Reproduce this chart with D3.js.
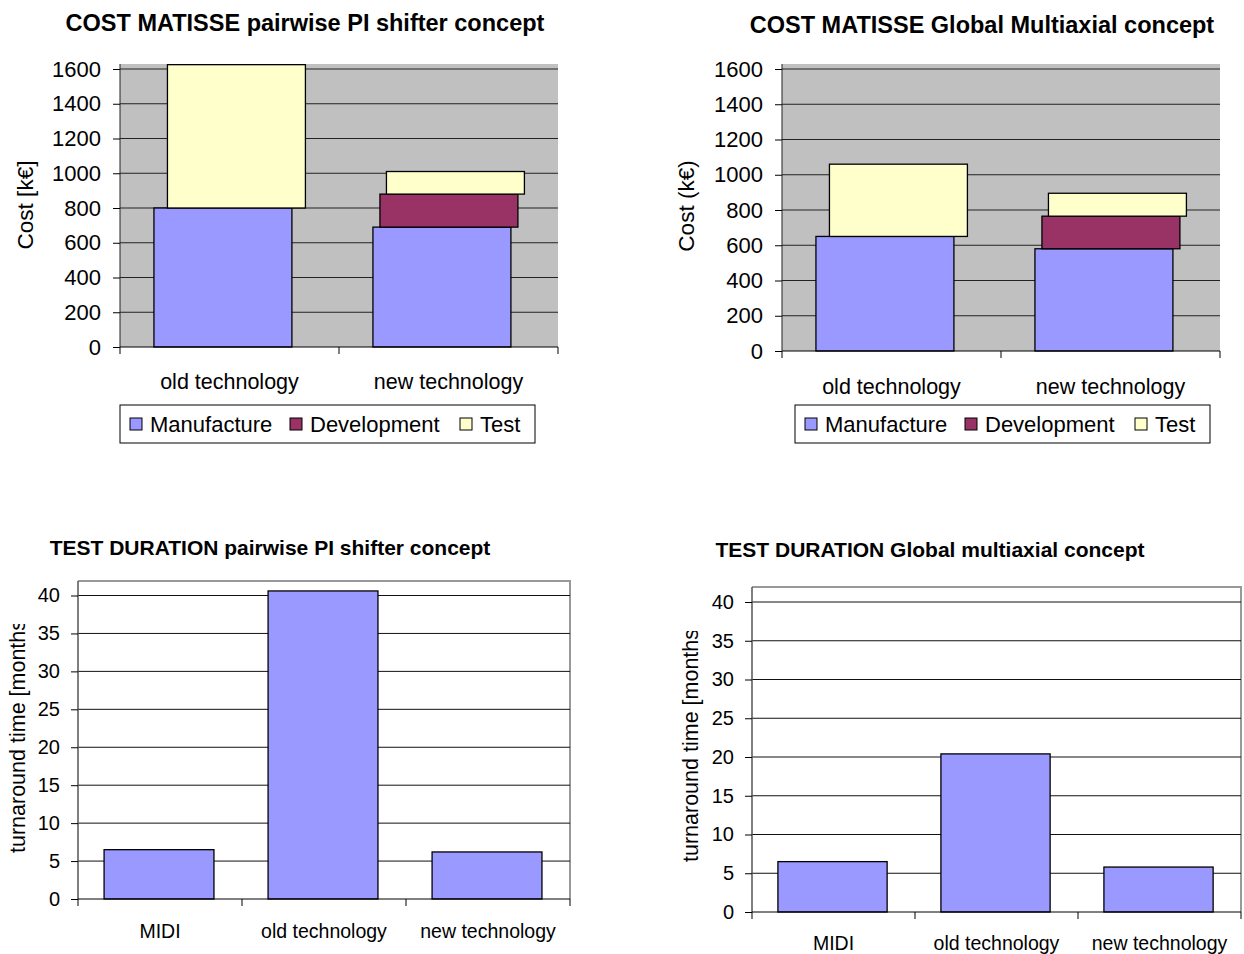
<!DOCTYPE html>
<html>
<head>
<meta charset="utf-8">
<script src="https://cdn.jsdelivr.net/npm/d3@7"></script>
<style>
  body { margin: 0; background: #fff; }
  svg { font-family: "Liberation Sans", Arial, sans-serif; }
</style>
</head>
<body>
<div id="chart"></div>
<script>
// chart values
const costCategories = ['old technology', 'new technology'];
const costSeries = ['Manufacture', 'Development', 'Test'];
const costTicks = [0, 200, 400, 600, 800, 1000, 1200, 1400, 1600];

const pairwiseManufacture = [800, 690];
const pairwiseDevelopment = [0, 190];
const pairwiseTest = [825, 130];

const globalManufacture = [650, 580];
const globalDevelopment = [0, 185];
const globalTest = [410, 130];

const durationCategories = ['MIDI', 'old technology', 'new technology'];
const durationTicks = [0, 5, 10, 15, 20, 25, 30, 35, 40];
const pairwiseDuration = [6.5, 40.6, 6.2];
const globalDuration = [6.5, 20.4, 5.8];

const seriesColors = ['#9999FF', '#993366', '#FFFFCC'];

const svg = d3.select('#chart')
  .append('svg')
  .attr('width', 1244)
  .attr('height', 954);

// stacked cost chart (gray plot area, shifted stack segments)
function drawCost(cfg) {
  const g = svg.append('g');

  const x = d3.scaleBand().domain(costCategories).range([cfg.left, cfg.right]);
  const y = d3.scaleLinear().domain([0, 1600]).range([cfg.zero, cfg.top1600]);

  g.append('rect')
    .attr('x', cfg.left).attr('y', cfg.plotTop)
    .attr('width', cfg.right - cfg.left).attr('height', cfg.zero - cfg.plotTop)
    .attr('fill', '#C0C0C0');

  // gridlines
  g.selectAll('.grid').data(costTicks.slice(1)).enter().append('line')
    .attr('x1', cfg.left).attr('x2', cfg.right)
    .attr('y1', d => y(d)).attr('y2', d => y(d))
    .attr('stroke', '#222').attr('stroke-width', 1);

  // bars
  const offsets = [0, 7, 13.5];
  const stacks = [cfg.manufacture, cfg.development, cfg.test];
  costCategories.forEach((c, i) => {
    let base = 0;
    stacks.forEach((vals, k) => {
      const v = vals[i];
      if (v > 0) {
        g.append('rect')
          .attr('x', x(c) + x.bandwidth() * 0.155 + offsets[k])
          .attr('y', y(base + v))
          .attr('width', x.bandwidth() * 0.63)
          .attr('height', y(base) - y(base + v))
          .attr('fill', seriesColors[k])
          .attr('stroke', '#000')
          .attr('stroke-width', 1.3);
      }
      base += v;
    });
  });

  // y axis
  const ya = g.append('g')
    .attr('transform', `translate(${cfg.left},0)`)
    .call(d3.axisLeft(y).tickValues(costTicks).tickFormat(d3.format('d'))
      .tickSize(7).tickPadding(12).tickSizeOuter(0));
  ya.select('.domain').attr('d', `M0,${cfg.plotTop}V${cfg.zero}`).attr('stroke', '#222');
  ya.selectAll('text').style('font-size', '22px').attr('fill', '#000');

  // x axis with ticks on band edges
  g.append('line')
    .attr('x1', cfg.left).attr('x2', cfg.right)
    .attr('y1', cfg.zero).attr('y2', cfg.zero)
    .attr('stroke', '#000');
  const edges = costCategories.map(c => x(c)).concat([cfg.right]);
  g.selectAll('.xt').data(edges).enter().append('line')
    .attr('x1', d => d).attr('x2', d => d)
    .attr('y1', cfg.zero).attr('y2', cfg.zero + 7)
    .attr('stroke', '#000');
  g.selectAll('.xl').data(costCategories).enter().append('text')
    .attr('x', d => x(d) + x.bandwidth() / 2)
    .attr('y', cfg.catY)
    .attr('text-anchor', 'middle')
    .style('font-size', '21.5px')
    .text(d => d);

  // title
  g.append('text')
    .attr('x', cfg.titleX).attr('y', cfg.titleY)
    .attr('text-anchor', 'middle')
    .style('font-size', '23.5px').style('font-weight', 'bold')
    .text(cfg.title);

  // y label
  g.append('text')
    .attr('transform', `translate(${cfg.labelX},${cfg.labelY}) rotate(-90)`)
    .attr('text-anchor', 'middle')
    .style('font-size', '22.5px')
    .text(cfg.yLabel);

  // legend
  const lg = g.append('g').attr('transform', `translate(${cfg.legendX},405)`);
  lg.append('rect')
    .attr('width', 415).attr('height', 38)
    .attr('fill', '#fff').attr('stroke', '#000').attr('stroke-width', 1);
  const legendPos = [10, 170, 340];
  costSeries.forEach((s, k) => {
    lg.append('rect')
      .attr('x', legendPos[k]).attr('y', 13)
      .attr('width', 12).attr('height', 12)
      .attr('fill', seriesColors[k]).attr('stroke', '#000');
    lg.append('text')
      .attr('x', legendPos[k] + 20).attr('y', 27)
      .style('font-size', '22px')
      .text(s);
  });
}

// single series duration chart (white plot area)
function drawDuration(cfg) {
  const g = svg.append('g');

  const x = d3.scaleBand().domain(durationCategories).range([cfg.left, cfg.right]);
  const y = d3.scaleLinear().domain([0, 40]).range([cfg.zero, cfg.top40]);

  // plot border (top + right)
  g.append('path')
    .attr('d', `M${cfg.left},${cfg.plotTop}H${cfg.right}V${cfg.zero}`)
    .attr('fill', 'none').attr('stroke', '#999').attr('stroke-width', 2);

  g.selectAll('.grid').data(durationTicks.slice(1)).enter().append('line')
    .attr('x1', cfg.left).attr('x2', cfg.right)
    .attr('y1', d => y(d)).attr('y2', d => y(d))
    .attr('stroke', '#111').attr('stroke-width', 1);

  g.selectAll('.bar').data(cfg.values).enter().append('rect')
    .attr('x', (d, i) => x(durationCategories[i]) + x.bandwidth() * 0.159)
    .attr('y', d => y(d))
    .attr('width', x.bandwidth() * 0.67)
    .attr('height', d => cfg.zero - y(d))
    .attr('fill', '#9999FF')
    .attr('stroke', '#000')
    .attr('stroke-width', 1.3);

  const ya = g.append('g')
    .attr('transform', `translate(${cfg.left},0)`)
    .call(d3.axisLeft(y).tickValues(durationTicks).tickSize(7).tickPadding(11).tickSizeOuter(0));
  ya.select('.domain').attr('d', `M0,${cfg.plotTop}V${cfg.zero}`).attr('stroke', '#555').attr('stroke-width', 1.5);
  ya.selectAll('text').style('font-size', '20px').attr('fill', '#000');

  g.append('line')
    .attr('x1', cfg.left).attr('x2', cfg.right)
    .attr('y1', cfg.zero).attr('y2', cfg.zero)
    .attr('stroke', '#000');
  const edges = durationCategories.map(c => x(c)).concat([cfg.right]);
  g.selectAll('.xt').data(edges).enter().append('line')
    .attr('x1', d => d).attr('x2', d => d)
    .attr('y1', cfg.zero).attr('y2', cfg.zero + 7)
    .attr('stroke', '#000');
  g.selectAll('.xl').data(durationCategories).enter().append('text')
    .attr('x', d => x(d) + x.bandwidth() / 2)
    .attr('y', cfg.catY)
    .attr('text-anchor', 'middle')
    .style('font-size', '19.5px')
    .text(d => d);

  g.append('text')
    .attr('x', cfg.titleX).attr('y', cfg.titleY)
    .attr('text-anchor', 'middle')
    .style('font-size', '21px').style('font-weight', 'bold')
    .text(cfg.title);

  // y label, clipped at the top like the original
  const clipId = 'clip-' + cfg.left;
  svg.append('clipPath').attr('id', clipId)
    .append('rect')
    .attr('x', cfg.labelX - 30).attr('y', cfg.clipTop)
    .attr('width', 40).attr('height', 400);
  g.append('g')
    .attr('clip-path', `url(#${clipId})`)
    .append('text')
    .attr('transform', `translate(${cfg.labelX},${cfg.labelY}) rotate(-90)`)
    .attr('text-anchor', 'start')
    .style('font-size', '21.5px')
    .text('turnaround time [months]');
}

drawCost({
  left: 120, right: 558, plotTop: 64, zero: 347, top1600: 69,
  manufacture: pairwiseManufacture, development: pairwiseDevelopment, test: pairwiseTest,
  catY: 389, title: 'COST MATISSE pairwise PI shifter concept', titleX: 305, titleY: 31,
  yLabel: 'Cost [k€]', labelX: 33, labelY: 205, legendX: 120
});

drawCost({
  left: 782, right: 1220, plotTop: 64, zero: 351, top1600: 69,
  manufacture: globalManufacture, development: globalDevelopment, test: globalTest,
  catY: 394, title: 'COST MATISSE Global Multiaxial concept', titleX: 982, titleY: 33,
  yLabel: 'Cost (k€)', labelX: 694, labelY: 206, legendX: 795
});

drawDuration({
  left: 78, right: 570, plotTop: 581, zero: 899, top40: 595.5,
  values: pairwiseDuration, catY: 938,
  title: 'TEST DURATION pairwise PI shifter concept', titleX: 270, titleY: 555,
  labelX: 25, labelY: 853, clipTop: 624
});

drawDuration({
  left: 752, right: 1241, plotTop: 587, zero: 912, top40: 602,
  values: globalDuration, catY: 950,
  title: 'TEST DURATION Global multiaxial concept', titleX: 930, titleY: 557,
  labelX: 698, labelY: 862, clipTop: 631
});
</script>
</body>
</html>
